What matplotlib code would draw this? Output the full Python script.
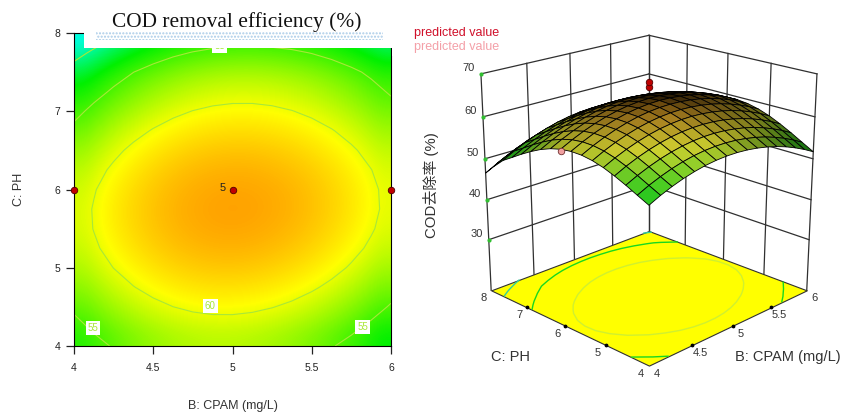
import matplotlib
matplotlib.use('Agg')
import matplotlib.pyplot as plt
import numpy as np
from matplotlib.colors import LightSource, LinearSegmentedColormap, Normalize
from matplotlib.patches import Rectangle
from mpl_toolkits.mplot3d import proj3d

cpam = [4, 4.125, 4.25, 4.375, 4.5, 4.625, 4.75, 4.875, 5, 5.125, 5.25, 5.375, 5.5, 5.625, 5.75, 5.875, 6]
ph = [4, 4.25, 4.5, 4.75, 5, 5.25, 5.5, 5.75, 6, 6.25, 6.5, 6.75, 7, 7.25, 7.5, 7.75, 8]
cod = [
    [52.94, 54.17, 55.21, 56.08, 56.77, 57.29, 57.62, 57.78, 57.76, 57.57, 57.21, 56.70, 56.02, 55.18, 54.17, 53.01, 51.69],
    [54.20, 55.45, 56.50, 57.39, 58.10, 58.63, 58.98, 59.15, 59.15, 58.98, 58.63, 58.14, 57.48, 56.65, 55.66, 54.51, 53.20],
    [55.49, 56.75, 57.82, 58.72, 59.44, 59.99, 60.36, 60.55, 60.56, 60.40, 60.07, 59.60, 58.95, 58.14, 57.16, 56.03, 54.74],
    [56.65, 57.93, 59.02, 59.93, 60.67, 61.24, 61.62, 61.82, 61.85, 61.71, 61.40, 60.93, 60.30, 59.51, 58.55, 57.43, 56.15],
    [57.64, 58.93, 60.03, 60.96, 61.72, 62.30, 62.69, 62.92, 62.96, 62.83, 62.54, 62.09, 61.47, 60.70, 59.75, 58.65, 57.39],
    [58.35, 59.66, 60.78, 61.73, 62.50, 63.09, 63.50, 63.74, 63.80, 63.69, 63.41, 62.98, 62.38, 61.61, 60.68, 59.60, 58.35],
    [58.75, 60.07, 61.20, 62.17, 62.95, 63.57, 63.99, 64.25, 64.32, 64.22, 63.96, 63.54, 62.96, 62.21, 61.30, 60.23, 58.99],
    [58.80, 60.14, 61.29, 62.27, 63.07, 63.70, 64.14, 64.41, 64.50, 64.42, 64.17, 63.77, 63.20, 62.47, 61.57, 60.52, 59.30],
    [58.50, 59.85, 61.02, 62.01, 62.83, 63.47, 63.93, 64.21, 64.32, 64.26, 64.02, 63.64, 63.08, 62.37, 61.48, 60.45, 59.25],
    [57.85, 59.22, 60.40, 61.41, 62.25, 62.91, 63.38, 63.68, 63.80, 63.75, 63.53, 63.16, 62.63, 61.93, 61.06, 60.04, 58.85],
    [56.89, 58.27, 59.47, 60.50, 61.34, 62.02, 62.51, 62.82, 62.96, 62.93, 62.72, 62.37, 61.85, 61.16, 60.31, 59.31, 58.14],
    [55.65, 57.05, 58.27, 59.31, 60.17, 60.86, 61.37, 61.70, 61.85, 61.83, 61.65, 61.31, 60.80, 60.13, 59.30, 58.31, 57.15],
    [54.24, 55.65, 56.88, 57.94, 58.82, 59.53, 60.05, 60.39, 60.56, 60.56, 60.39, 60.06, 59.57, 58.92, 58.10, 57.13, 55.99],
    [52.70, 54.13, 55.38, 56.45, 57.35, 58.07, 58.60, 58.97, 59.15, 59.16, 59.01, 58.70, 58.23, 57.59, 56.78, 55.83, 54.70],
    [51.19, 52.63, 53.89, 54.98, 55.89, 56.63, 57.18, 57.56, 57.76, 57.79, 57.65, 57.36, 56.90, 56.28, 55.49, 54.55, 53.44],
    [49.00, 50.46, 51.74, 52.85, 53.77, 54.53, 55.09, 55.49, 55.70, 55.75, 55.62, 55.35, 54.90, 54.30, 53.52, 52.60, 51.50],
    [46.54, 48.02, 49.31, 50.43, 51.37, 52.14, 52.72, 53.13, 53.36, 53.42, 53.31, 53.05, 52.62, 52.03, 51.27, 50.36, 49.29],
]
design_b = [4, 5, 6]
design_c = [6, 6, 6]
center_z = [68.2, 66.9]
low_b, low_c, low_z = [4.0], [6.0], [58.1]
b_ticks = [4, 4.5, 5, 5.5, 6]
b_labels = ['4', '4.5', '5', '5.5', '6']
c_ticks = [4, 5, 6, 7, 8]
z_ticks = [30, 40, 50, 60, 70]
z_floor = 17

plt.rcParams['font.family'] = ['Liberation Sans', 'Noto Sans CJK SC']
plt.rcParams['hatch.linewidth'] = 1.0
cmap = LinearSegmentedColormap.from_list('de', [(0, '#00ffff'), (0.3, '#00f000'), (0.74, '#ffff00'), (1, '#ff9800')])
cmap3d = LinearSegmentedColormap.from_list('de3', [(0, '#0c700c'), (0.38, '#30d020'), (0.68, '#d0d030'),
                                                  (0.88, '#a88020'), (1, '#5a3808')])
norm = Normalize(46, 65)
W, H = 845, 418
TEXT = '#333333'

fig = plt.figure(figsize=(W / 100, H / 100), dpi=100)

ax = fig.add_axes([74 / W, 1 - 346 / H, 317 / W, 313 / H])
ax.imshow(cod, extent=(4, 6, 4, 8), origin='lower', aspect='auto', cmap=cmap, norm=norm, interpolation='bicubic')
ax.contour(cpam, ph, cod, levels=[50, 55, 60], colors='#a8e838', linewidths=0.8)
ax.scatter(design_b, design_c, s=22, c='#c00000', edgecolors='#500000', linewidths=0.6, zorder=5, clip_on=False)
ax.set_xticks(b_ticks, b_labels)
ax.set_yticks(c_ticks)
ax.tick_params(length=6, width=0.9, labelsize=7.5, colors='#222222')
ax.tick_params(axis='x', pad=6)
ax.tick_params(axis='y', pad=4)
ax.set_xlabel('B: CPAM (mg/L)', fontsize=9, color=TEXT, labelpad=20)
ax.set_ylabel('C: PH', fontsize=9, color=TEXT, labelpad=21)
ax.text(4.96, 6.02, '5', fontsize=8, ha='right', va='center', color='#222222')
for x, y, s in [(4.12, 4.23, '55'), (5.82, 4.24, '55'), (4.86, 4.51, '60'), (4.92, 7.83, '55')]:
    ax.text(x, y, s, fontsize=7, color='#a8e838', ha='center', va='center',
            bbox=dict(fc='white', ec='none', pad=1.5))

ax3 = fig.add_axes([0.5328, 0.0808, 0.4580, 0.9258], projection='3d', computed_zorder=False)
ax3.set_xlim(4, 6)
ax3.set_ylim(4, 8)
ax3.set_zlim(z_floor, 70)
ax3.set_axis_off()
ax3.view_init(20, -135)
ax3.set_proj_type('persp', focal_length=0.6)
ax3.set_box_aspect((1, 1, 1.0))

grid_kw = dict(color='#303030', lw=0.9, zorder=1)
for z in z_ticks:
    ax3.plot([4, 6], [8, 8], [z, z], **grid_kw)
    ax3.plot([6, 6], [8, 4], [z, z], **grid_kw)
for b in b_ticks:
    ax3.plot([b, b], [8, 8], [z_floor, 70], **grid_kw)
for c in c_ticks:
    ax3.plot([6, 6], [c, c], [z_floor, 70], **grid_kw)

floor_b, floor_c = np.meshgrid([4, 6], [4, 8])
ax3.plot_surface(floor_b, floor_c, np.full((2, 2), z_floor), color='#ffff00', shade=False,
                 edgecolor='#303030', lw=0.8, zorder=2)
ax3.contour(cpam, ph, np.array(cod), levels=[50, 55, 60], colors=['#30d0a0', '#18d820', '#d0f030'],
            linewidths=1.0, zdir='z', offset=z_floor, zorder=3)

grid_b, grid_c = np.meshgrid(cpam, ph)
ax3.plot_surface(grid_b, grid_c, np.array(cod), facecolors=cmap3d(norm(np.array(cod))), shade=True,
                 lightsource=LightSource(225, 12), rstride=1, cstride=1, edgecolor='#000000', lw=0.6, zorder=4)
ax3.scatter([5, 5], [6, 6], center_z, s=22, c='#c00000', edgecolors='#500000', linewidths=0.6,
            depthshade=False, zorder=6)
ax3.scatter(low_b, low_c, low_z, s=22, c='#f0a0a0', edgecolors='#703030', linewidths=0.6,
            depthshade=False, zorder=6)
ax3.scatter([4] * len(z_ticks), [8] * len(z_ticks), z_ticks, s=4, c='#30c030', depthshade=False, zorder=5)
ax3.scatter([4.5, 5, 5.5], [4, 4, 4], [z_floor] * 3, s=3, c='k', depthshade=False, zorder=5)
ax3.scatter([4, 4, 4], [5, 6, 7], [z_floor] * 3, s=3, c='k', depthshade=False, zorder=5)

over = fig.add_axes([0, 0, 1, 1], facecolor='none')
over.set_xlim(0, W)
over.set_ylim(H, 0)
over.set_axis_off()


def label3d(x, y, z, text, dx, dy):
    # put a tick label at the projected point of the 3d box, offset in pixels
    px, py, _ = proj3d.proj_transform(x, y, z, ax3.get_proj())
    sx, sy = ax3.transData.transform((px, py))
    over.text(sx + dx, H - sy + dy, text, fontsize=8, color=TEXT, ha='center', va='center')


fig.canvas.draw()
for z in z_ticks:
    label3d(4, 8, z, str(z), -12, -6)
for b, lab in zip(b_ticks, b_labels):
    label3d(b, 4, z_floor, lab, 8, 8)
for c in c_ticks:
    label3d(4, c, z_floor, str(c), -8, 8)

over.text(414, 33, 'predicted value', fontsize=9, color='#d0102a', va='center')
over.text(414, 47, 'predicted value', fontsize=9, color='#f4a0a8', va='center')
over.add_patch(Rectangle((84, 0), 308, 47.5, fc='white', ec='none'))
over.add_patch(Rectangle((392, 26), 23.5, 30, fc='white', ec='none'))
over.add_patch(Rectangle((96, 31), 287, 9, fc='white', ec='#a8cbe8', lw=0, hatch='.....'))
over.text(237, 22, 'COD removal efficiency (%)', family='Liberation Serif', fontsize=15.4, color='#111111',
          ha='center', va='center')
over.text(431, 185, 'COD去除率 (%)', fontsize=10.8, rotation=90, color=TEXT, ha='center', va='center')
over.text(491, 357, 'C: PH', fontsize=10.5, color=TEXT, va='center')
over.text(735, 357, 'B: CPAM (mg/L)', fontsize=10.5, color=TEXT, va='center')
fig.savefig('out.png', dpi=100)
